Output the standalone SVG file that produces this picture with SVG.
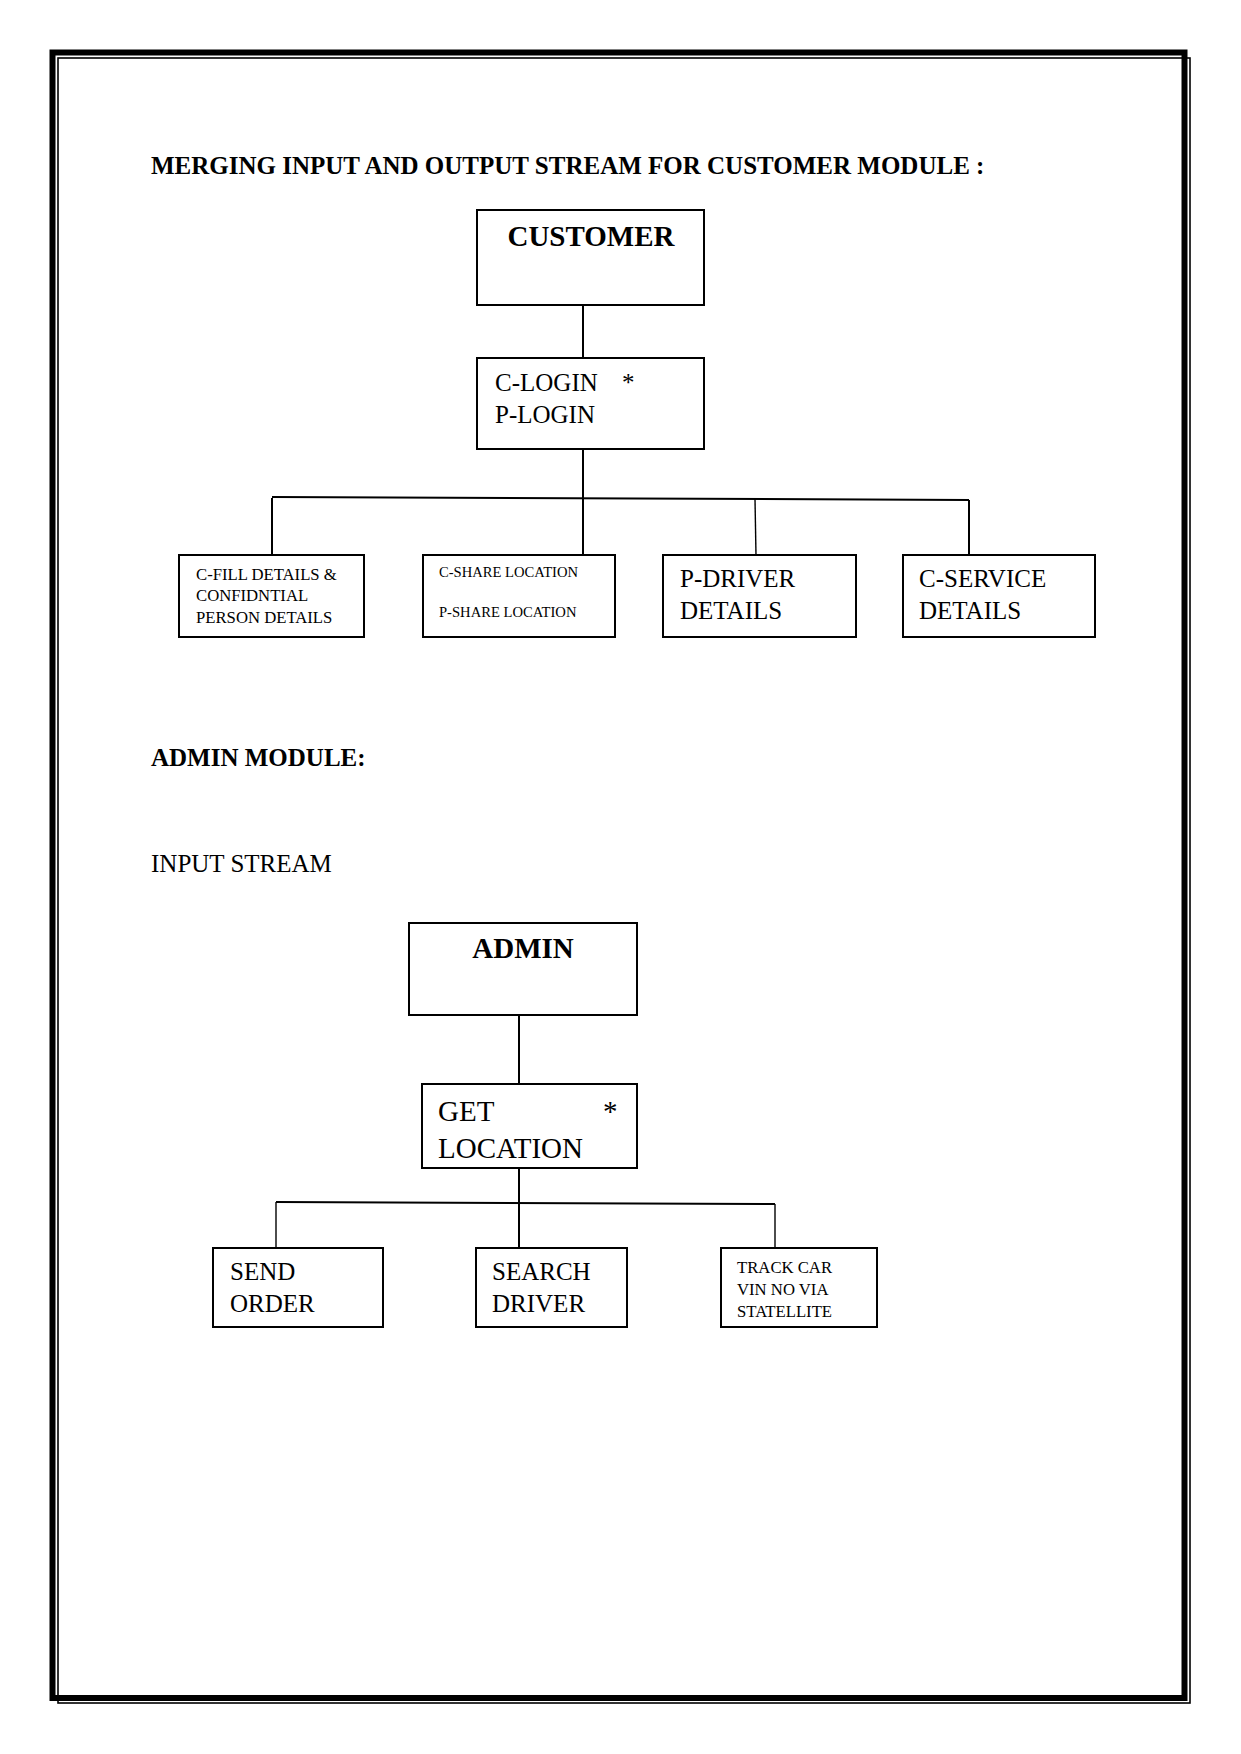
<svg xmlns="http://www.w3.org/2000/svg" width="1241" height="1754" viewBox="0 0 1241 1754">
<style>
text{font-family:"Liberation Serif","Times New Roman",serif;fill:#000}
.b{font-weight:bold}
.h{font-size:25px}
.big{font-size:29px}
.m{font-size:25px}
.s{font-size:16.7px}
.xs{font-size:14.6px}
.box{fill:#fff;stroke:#000;stroke-width:2}
.c{stroke:#000;stroke-width:2;fill:none}
.t{stroke:#000;stroke-width:1.4;fill:none}
</style>
<rect width="1241" height="1754" fill="#fff"/>
<g id="border">
<rect x="52.5" y="52.5" width="1132" height="1645.5" fill="none" stroke="#000" stroke-width="6"/>
<rect x="58" y="58" width="1132" height="1645" fill="none" stroke="#000" stroke-width="1.6"/>
</g>
<g id="headings">
<text class="b h" x="151" y="174">MERGING INPUT AND OUTPUT STREAM FOR CUSTOMER MODULE :</text>
<text class="b h" x="151" y="766">ADMIN MODULE:</text>
<text class="h" x="151" y="872">INPUT STREAM</text>
</g>
<g id="connectors">
<line class="c" x1="583" y1="305" x2="583" y2="358"/>
<line class="c" x1="583" y1="449" x2="583" y2="555"/>
<line class="c" x1="272" y1="497" x2="969" y2="500"/>
<line class="c" x1="272" y1="498" x2="272" y2="555"/>
<line class="t" x1="755" y1="499" x2="756" y2="555"/>
<line class="c" x1="969" y1="500" x2="969" y2="562"/>
<line class="c" x1="519" y1="1015" x2="519" y2="1084"/>
<line class="c" x1="519" y1="1168" x2="519" y2="1248"/>
<line class="c" x1="276" y1="1202" x2="775" y2="1204"/>
<line class="t" x1="276" y1="1202" x2="276" y2="1248"/>
<line class="t" x1="775" y1="1204" x2="775" y2="1248"/>
</g>
<g id="customer">
<rect class="box" x="477" y="210" width="227" height="95"/>
<text class="b big" x="591" y="246" text-anchor="middle">CUSTOMER</text>
</g>
<g id="login">
<rect class="box" x="477" y="358" width="227" height="91"/>
<text class="m" x="495" y="391">C-LOGIN</text>
<text class="m" x="622" y="391">*</text>
<text class="m" x="495" y="423">P-LOGIN</text>
</g>
<g id="fill-details">
<rect class="box" x="179" y="555" width="185" height="82"/>
<text class="s" x="196" y="580">C-FILL DETAILS &amp;</text>
<text class="s" x="196" y="601">CONFIDNTIAL</text>
<text class="s" x="196" y="623">PERSON DETAILS</text>
</g>
<g id="share-location">
<rect class="box" x="423" y="555" width="192" height="82"/>
<text class="xs" x="439" y="577">C-SHARE LOCATION</text>
<text class="xs" x="439" y="617">P-SHARE LOCATION</text>
</g>
<g id="driver-details">
<rect class="box" x="663" y="555" width="193" height="82"/>
<text class="m" x="680" y="587">P-DRIVER</text>
<text class="m" x="680" y="619">DETAILS</text>
</g>
<g id="service-details">
<rect class="box" x="903" y="555" width="192" height="82"/>
<text class="m" x="919" y="587">C-SERVICE</text>
<text class="m" x="919" y="619">DETAILS</text>
</g>
<g id="admin">
<rect class="box" x="409" y="923" width="228" height="92"/>
<text class="b big" x="523" y="958" text-anchor="middle">ADMIN</text>
</g>
<g id="get-location">
<rect class="box" x="422" y="1084" width="215" height="84"/>
<text class="big" x="438" y="1121">GET</text>
<text class="big" x="603" y="1121">*</text>
<text class="big" x="438" y="1158">LOCATION</text>
</g>
<g id="send-order">
<rect class="box" x="213" y="1248" width="170" height="79"/>
<text class="m" x="230" y="1280">SEND</text>
<text class="m" x="230" y="1312">ORDER</text>
</g>
<g id="search-driver">
<rect class="box" x="476" y="1248" width="151" height="79"/>
<text class="m" x="492" y="1280">SEARCH</text>
<text class="m" x="492" y="1312">DRIVER</text>
</g>
<g id="track-car">
<rect class="box" x="721" y="1248" width="156" height="79"/>
<text class="s" x="737" y="1273">TRACK CAR</text>
<text class="s" x="737" y="1295">VIN NO VIA</text>
<text class="s" x="737" y="1317">STATELLITE</text>
</g>
</svg>
